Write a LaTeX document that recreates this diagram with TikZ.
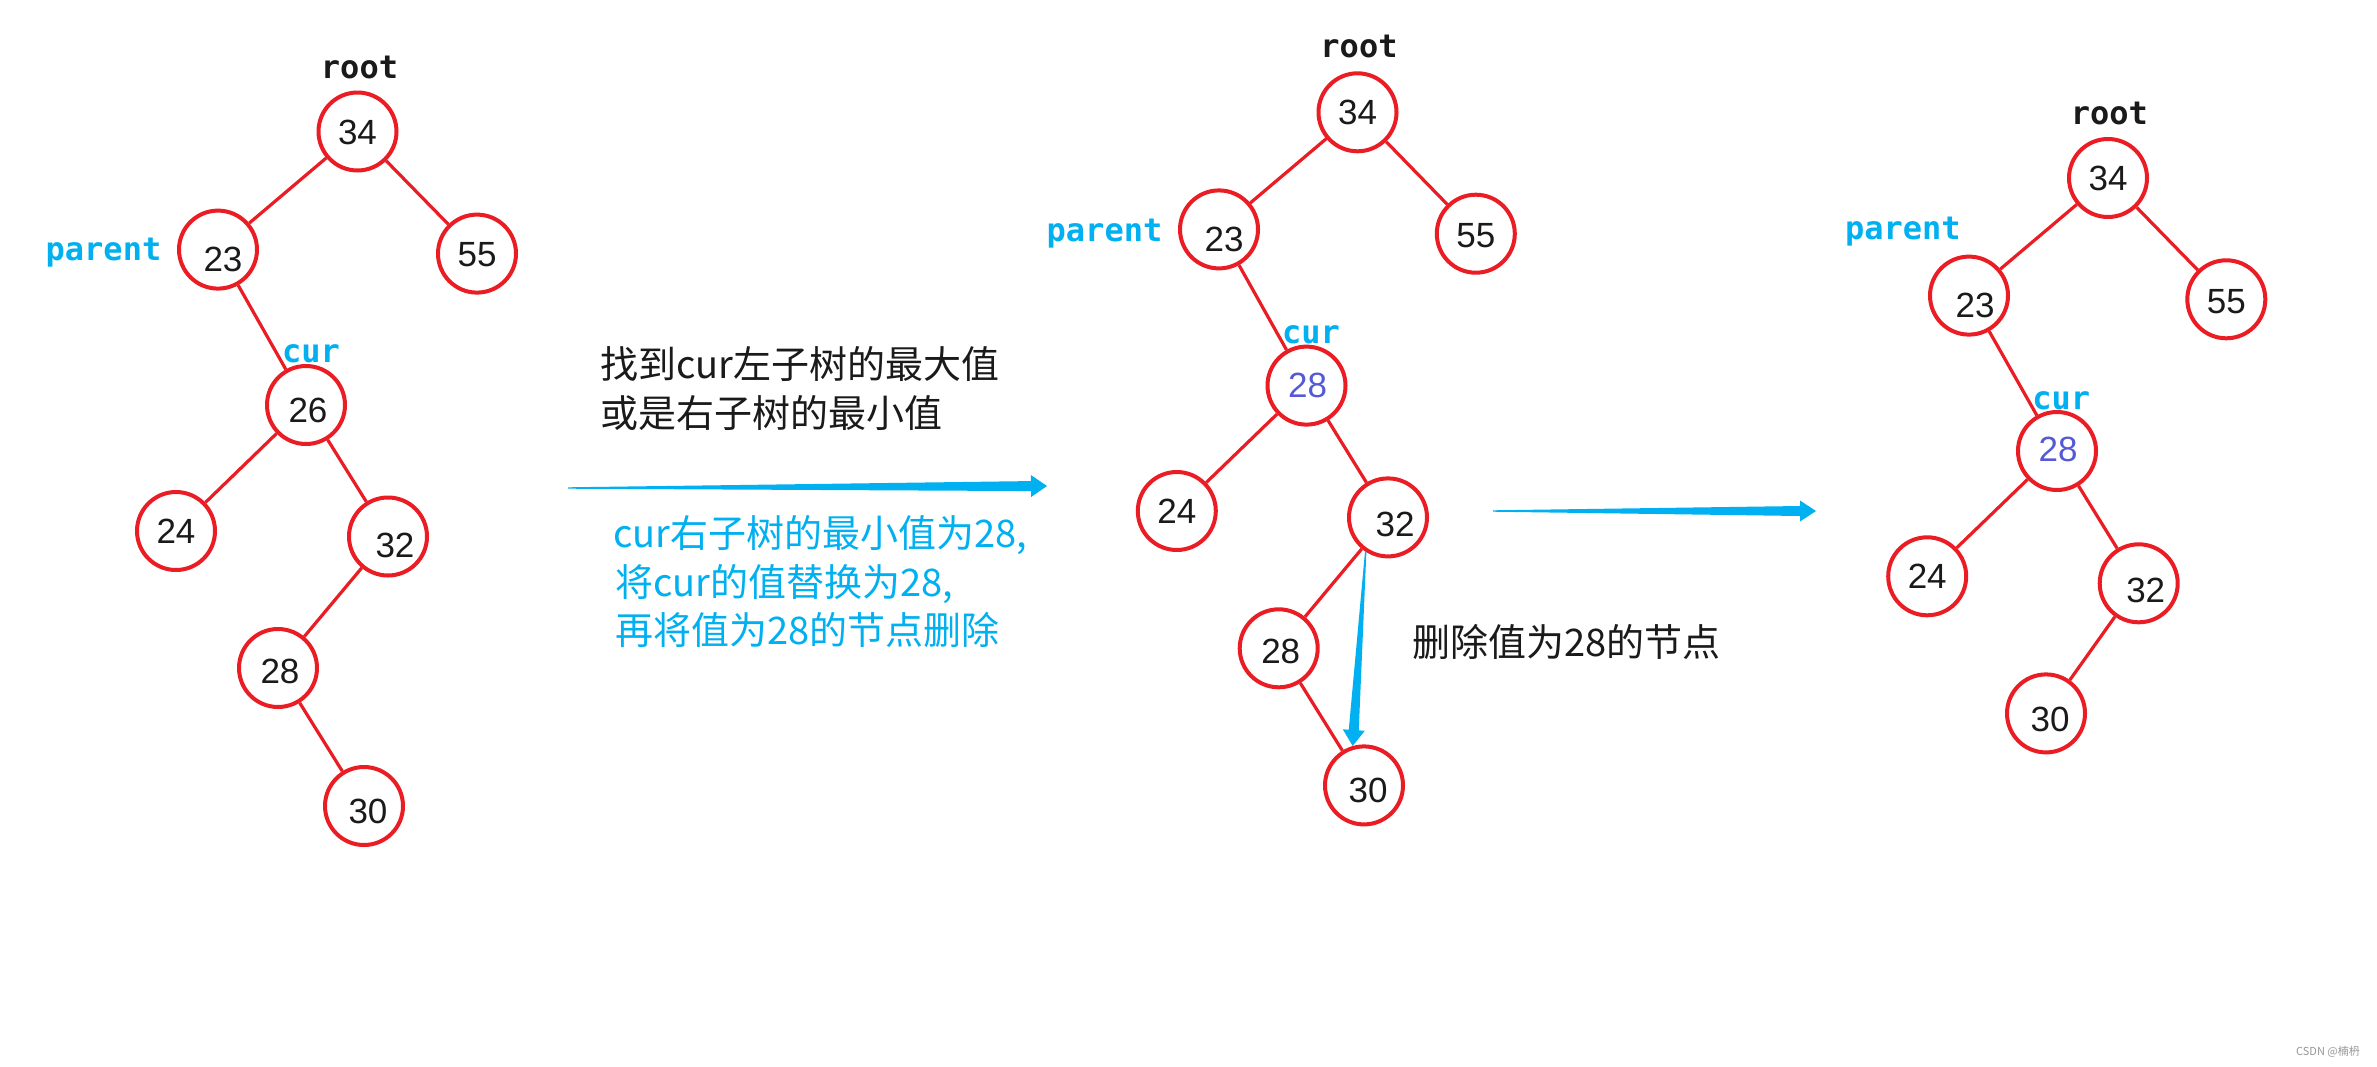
\documentclass[tikz,border=0pt]{standalone}
\usepackage{fontspec}
\usetikzlibrary{calc}
\setmainfont{Liberation Sans}
\newfontfamily\numfont{Liberation Sans}
\newfontfamily\monofont{DejaVu Sans Mono}
\newfontfamily\cjkfont{Noto Sans CJK SC}
\definecolor{tred}{RGB}{234,28,36}
\definecolor{tblue}{RGB}{0,176,240}
\definecolor{tpurple}{RGB}{84,90,214}
\definecolor{tblack}{RGB}{26,26,26}
\definecolor{tgray}{RGB}{150,150,150}
\newcommand\nt[2]{\makebox[0pt]{\hspace*{#1pt}\hspace*{#1pt}#2}}
\newcommand\taper[4]{% tail, tip, name, head half-width
  \coordinate (#3h) at ($(#2)!16pt!(#1)$);
  \fill[tblue] ($(#1)!0.7pt!90:(#2)$) -- ($(#3h)!5pt!-90:(#1)$) -- ($(#3h)!#4pt!-90:(#1)$) -- (#2)
    -- ($(#3h)!#4pt!90:(#1)$) -- ($(#3h)!5pt!90:(#1)$) -- ($(#1)!0.7pt!-90:(#2)$) -- cycle;
}
\tikzset{
  nd/.style={circle, draw=tred, line width=4pt, minimum size=78pt, inner sep=0pt,
    font=\numfont\fontsize{35pt}{40pt}\selectfont, text=tblack, text height=25pt, text depth=0pt},
  edge/.style={draw=tred, line width=3.2pt},
  rootlbl/.style={inner sep=0pt, anchor=base, text=tblack, font=\monofont\bfseries\fontsize{32pt}{36pt}\selectfont},
  bluelbl/.style={inner sep=0pt, anchor=base, text=tblue, font=\monofont\bfseries\fontsize{32pt}{36pt}\selectfont},
  cjkblack/.style={inner sep=0pt, anchor=base west, text=tblack, font=\cjkfont\fontsize{38pt}{46pt}\selectfont},
  cjkblue/.style={inner sep=0pt, anchor=base west, text=tblue, font=\cjkfont\fontsize{38pt}{46pt}\selectfont},
}
\begin{document}
\begin{tikzpicture}[x=1pt,y=-1pt]
\fill[white] (0,0) rectangle (2377,1066);
\useasboundingbox (0,0) rectangle (2377,1066);

% ---------- Tree 1 ----------
\node[nd] (a34) at (357.5,131.5) {34};
\node[nd, text height=43pt] (a23) at (218,249.6) {\nt{5}{23}};
\node[nd] (a55) at (477,253.6) {55};
\node[nd, text height=35pt] (a26) at (306,405) {\nt{2}{26}};
\node[nd] (a24) at (176,531) {24};
\node[nd, text height=41pt] (a32) at (388,536.5) {\nt{7}{32}};
\node[nd, text height=31pt] (a28) at (278,668) {\nt{2}{28}};
\node[nd, text height=35pt] (a30) at (364,806) {\nt{4}{30}};
\node[rootlbl] (aroot) at (359.5,78.7) {root};
\node[bluelbl] (aparent) at (103.5,260.3) {parent};
\node[bluelbl] (acur) at (311,362.7) {cur};
\draw[edge] (a34) -- (a23);
\draw[edge] (a34) -- (a55);
\draw[edge] (a23) -- (a26);
\draw[edge] (a26) -- (a24);
\draw[edge] (a26) -- (a32);
\draw[edge] (a32) -- (a28);
\draw[edge] (a28) -- (a30);

% ---------- Tree 2 ----------
\node[nd] (b34) at (1357.5,112.3) {34};
\node[nd, text height=45pt] (b23) at (1219,229.4) {\nt{5}{23}};
\node[nd, text height=27pt] (b55) at (1475.8,233.7) {55};
\node[nd, text height=23pt, text=tpurple] (b28) at (1306.5,385.6) {\nt{1}{28}};
\node[nd] (b24) at (1176.8,511) {24};
\node[nd, text height=39pt] (b32) at (1388,517.4) {\nt{7}{32}};
\node[nd, text height=31pt] (b28l) at (1278.7,648.3) {\nt{2}{28}};
\node[nd, text height=35pt] (b30) at (1364,785.4) {\nt{4}{30}};
\node[rootlbl] (broot) at (1359,57.7) {root};
\node[bluelbl] (bparent) at (1104.5,241.4) {parent};
\node[bluelbl] (bcur) at (1311,343.4) {cur};
\draw[edge] (b34) -- (b23);
\draw[edge] (b34) -- (b55);
\draw[edge] (b23) -- (b28);
\draw[edge] (b28) -- (b24);
\draw[edge] (b28) -- (b32);
\draw[edge] (b32) -- (b28l);
\draw[edge] (b28l) -- (b30);
\taper{b32.237}{b30.106}{av}{11}

% ---------- Tree 3 ----------
\node[nd] (c34) at (2108,178) {34};
\node[nd, text height=43pt] (c23) at (1969,295.6) {\nt{6}{23}};
\node[nd, text height=29pt] (c55) at (2226.3,299.3) {55};
\node[nd, text height=21pt, text=tpurple] (c28) at (2057,451) {\nt{1}{28}};
\node[nd] (c24) at (1927.2,576.3) {24};
\node[nd, text height=39pt] (c32) at (2138.7,583.3) {\nt{7}{32}};
\node[nd, text height=37pt] (c30) at (2046,713.4) {\nt{4}{30}};
\node[rootlbl] (croot) at (2109.3,124.3) {root};
\node[bluelbl] (cparent) at (1902.8,239.7) {parent};
\node[bluelbl] (ccur) at (2061.3,409.7) {cur};
\draw[edge] (c34) -- (c23);
\draw[edge] (c34) -- (c55);
\draw[edge] (c23) -- (c28);
\draw[edge] (c28) -- (c24);
\draw[edge] (c28) -- (c32);
\draw[edge] (c32) -- (c30);

% ---------- Arrows between stages ----------
\coordinate (a1s) at (568,488);
\coordinate (a1e) at (1047,486);
\taper{a1s}{a1e}{ah}{11}
\coordinate (a2s) at (1493,511);
\coordinate (a2e) at (1816,511);
\taper{a2s}{a2e}{bh}{10.5}

% ---------- Texts ----------
\node[cjkblack] (t1a) at (600,378.4) {找到cur左子树的最大值};
\node[cjkblack] (t1b) at (600,427.4) {或是右子树的最小值};
\node[cjkblue] (t2a) at (613,547.4) {cur右子树的最小值为28,};
\node[cjkblue] (t2b) at (615,596.4) {将cur的值替换为28,};
\node[cjkblue] (t2c) at (615,644.4) {再将值为28的节点删除};
\node[cjkblack] (t3) at (1412,656.4) {删除值为28的节点};
\node[inner sep=0pt, text=tgray, font=\cjkfont\fontsize{11pt}{13pt}\selectfont] (wm) at (2328,1052) {CSDN @楠枬};
\end{tikzpicture}
\end{document}
